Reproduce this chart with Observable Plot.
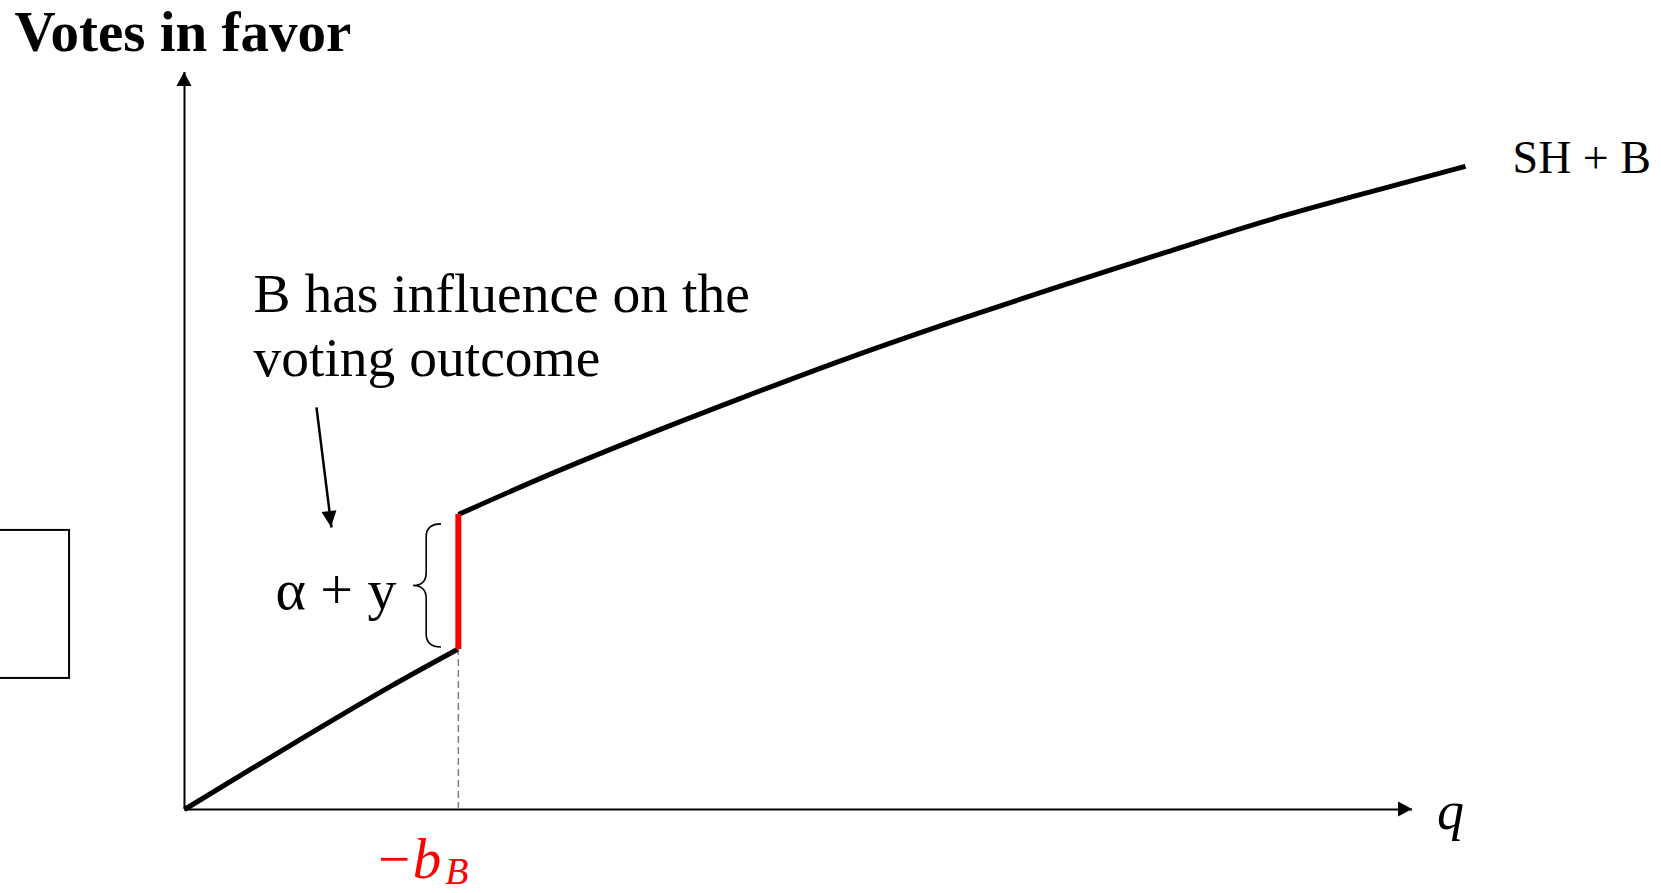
<!DOCTYPE html>
<html><head><meta charset="utf-8">
<script src="https://cdn.jsdelivr.net/npm/d3@7"></script>
<script src="https://cdn.jsdelivr.net/npm/@observablehq/plot@0.6"></script>
<style>html,body{margin:0;padding:0;background:#fff;} svg{display:block;}</style>
</head><body><div id="chart"></div>
<script>
// ---- data (arbitrary units: q on the horizontal, votes on the vertical)
const qMax = 100, vMax = 60;
const lowerQ = [0, 5.37, 11.07, 16.78, 22.23];
const lowerV = [0, 3.26, 6.68, 10.02, 13.03];
const upperQ = [22.31, 29.56, 36.81, 45.28, 53.99, 62.62, 71.25, 79.89, 88.52, 96.42, 104.32];
const upperV = [24.02, 27.20, 30.17, 33.47, 36.73, 39.74, 42.59, 45.36, 48.05, 50.24, 52.36];
const jumpQ = 22.3;
const jumpV = [13.03, 24.02];
const braceQ = [18.65, 20.93];
const braceV = [13.19, 23.21];
const noteArrowQ = [10.75, 11.97];
const noteArrowV = [32.74, 22.96];
const boxQ = [-16, -9.36];
const boxV = [10.67, 22.72];

const yTitle = "Votes in favor";
const curveLabel = "SH + B";
const xLabel = "q";
const noteText = "B has influence on the\nvoting outcome";
const jumpLabel = "α + y";
const bLabel = "−b";
const bSub = "B";

const rows = (qs, vs) => qs.map((q, i) => ({q, v: vs[i]}));
const lower = rows(lowerQ, lowerV);
const upper = rows(upperQ, upperV);
const last = upper[upper.length - 1];

function arrowHead(tip, from, len, half) {
  return (index, scales) => {
    const tx = scales.x(tip[0]), ty = scales.y(tip[1]);
    const fx = scales.x(from[0]), fy = scales.y(from[1]);
    const d = Math.hypot(tx - fx, ty - fy);
    const ux = (tx - fx) / d, uy = (ty - fy) / d;
    const bx = tx - ux * len, by = ty - uy * len;
    const pts = [[tx, ty], [bx - uy * half, by + ux * half], [bx + uy * half, by - ux * half]];
    return d3.create("svg:polygon")
      .attr("points", pts.map(p => p.join(",")).join(" "))
      .attr("fill", "#000").node();
  };
}

function braceMark(qL, qR, vBot, vTop) {
  return (index, scales) => {
    const xl = scales.x(qL), xr = scales.x(qR), yt = scales.y(vTop), yb = scales.y(vBot);
    const xm = xl + (xr - xl) * 0.47, ym = (yt + yb) / 2, r = 13;
    const p = d3.path();
    p.moveTo(xr, yt);
    p.quadraticCurveTo(xm, yt, xm, yt + r);
    p.lineTo(xm, ym - r);
    p.quadraticCurveTo(xm, ym, xl, ym);
    p.quadraticCurveTo(xm, ym, xm, ym + r);
    p.lineTo(xm, yb - r);
    p.quadraticCurveTo(xm, yb, xr, yb);
    return d3.create("svg:path").attr("d", p.toString())
      .attr("fill", "none").attr("stroke", "#000").attr("stroke-width", 1.6).node();
  };
}

const serif = "Liberation Serif";

const chart = Plot.plot({
  width: 1661,
  height: 893,
  margin: 0,
  style: {background: "#fff"},
  x: {domain: [0, qMax], range: [184, 1412], axis: null},
  y: {domain: [0, vMax], range: [809, 72], axis: null},
  marks: [
    // cut-off box on the left
    Plot.rect([{x1: boxQ[0], x2: boxQ[1], y1: boxV[0], y2: boxV[1]}],
      {x1: "x1", x2: "x2", y1: "y1", y2: "y2", fill: "white", stroke: "black", strokeWidth: 2}),
    // axes
    Plot.ruleY([0], {x1: 0, x2: qMax, stroke: "black", strokeWidth: 2}),
    Plot.ruleX([0], {y1: 0, y2: vMax, stroke: "black", strokeWidth: 2}),
    arrowHead([qMax, 0], [0, 0], 14, 7.5),
    arrowHead([0, vMax], [0, 0], 14, 7.5),
    // dashed guide
    Plot.ruleX([jumpQ], {y1: 0, y2: jumpV[0], stroke: "#7f7f7f", strokeWidth: 1.5, strokeDasharray: "7,4"}),
    // curves
    Plot.line(lower, {x: "q", y: "v", stroke: "black", strokeWidth: 5, curve: "monotone-x", strokeLinecap: "butt"}),
    Plot.line(upper, {x: "q", y: "v", stroke: "black", strokeWidth: 5, curve: "monotone-x", strokeLinecap: "butt"}),
    Plot.ruleX([jumpQ], {y1: jumpV[0], y2: jumpV[1], stroke: "#ff0000", strokeWidth: 6}),
    // brace + label
    braceMark(braceQ[0], braceQ[1], braceV[0], braceV[1]),
    Plot.text([jumpLabel], {x: braceQ[0], y: (braceV[0] + braceV[1]) / 2, text: d => d,
      textAnchor: "end", dx: -17, dy: 4, fontSize: 58, fontFamily: serif, fill: "black"}),
    // note + arrow
    Plot.link([0], {x1: noteArrowQ[0], y1: noteArrowV[0], x2: noteArrowQ[1], y2: noteArrowV[1], stroke: "black", strokeWidth: 2.5}),
    arrowHead([noteArrowQ[1], noteArrowV[1]], [noteArrowQ[0], noteArrowV[0]], 16, 7.5),
    Plot.text([noteText], {frameAnchor: "top-left", text: d => d, dx: 253, dy: 266, lineHeight: 1.15,
      fontSize: 55.5, fontFamily: serif, fill: "black", textAnchor: "start", lineAnchor: "top"}),
    // titles and labels
    Plot.text([yTitle], {frameAnchor: "top-left", text: d => d, dx: 14, dy: 10,
      fontSize: 57, fontWeight: "bold", fontFamily: serif, fill: "black", textAnchor: "start", lineAnchor: "top"}),
    Plot.text([curveLabel], {x: last.q, y: last.v, text: d => d, textAnchor: "start", dx: 47, dy: -8,
      fontSize: 46, fontFamily: serif, fill: "black"}),
    Plot.text([xLabel], {x: qMax, y: 0, text: d => d, textAnchor: "middle", dx: 38, dy: 2,
      fontSize: 54, fontStyle: "italic", fontFamily: serif, fill: "black"}),
    Plot.text([bLabel], {x: jumpQ, y: 0, text: d => d, textAnchor: "end", dx: -17, dy: 50,
      fontSize: 57, fontStyle: "italic", fontFamily: serif, fill: "#ff0000"}),
    Plot.text([bSub], {x: jumpQ, y: 0, text: d => d, textAnchor: "start", dx: -13, dy: 62,
      fontSize: 38, fontStyle: "italic", fontFamily: serif, fill: "#ff0000"})
  ]
});
document.getElementById("chart").append(chart);
</script>
</body></html>
